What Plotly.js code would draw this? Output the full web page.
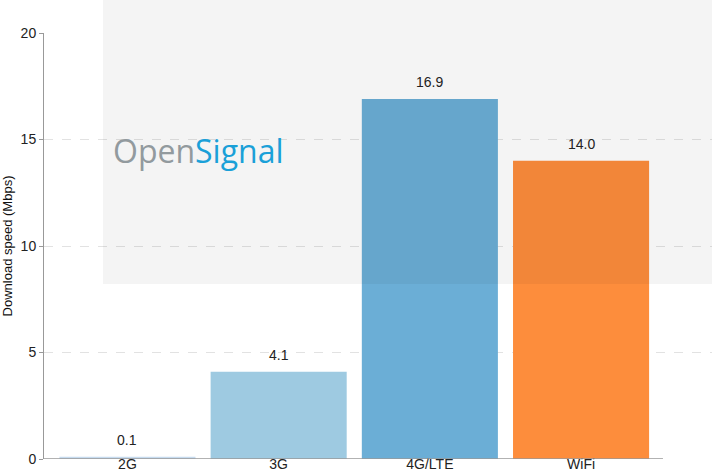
<!DOCTYPE html>
<html>
<head>
<meta charset="utf-8">
<script src="https://cdn.plot.ly/plotly-3.0.1.min.js"></script>
<style>html,body{margin:0;padding:0;background:#fff;}#chart{width:712px;height:472px;}</style>
</head>
<body>
<div id="chart"></div>
<script>
var categories = ["2G", "3G", "4G/LTE", "WiFi"];
var speeds = [0.1, 4.1, 16.9, 14.0];
var speedLabels = ["0.1", "4.1", "16.9", "14.0"];
var barColors = ["#c6dbef", "#9ecae1", "#6baed6", "#fd8d3c"];
var yTicks = [0, 5, 10, 15, 20];

var trace = {
  type: "bar",
  x: categories,
  y: speeds,
  marker: {color: barColors, line: {width: 0}},
  hoverinfo: "skip"
};

var annotations = categories.map(function (c, i) {
  return {
    x: c, y: speeds[i], xref: "x", yref: "y",
    text: speedLabels[i], showarrow: false,
    yanchor: "bottom", yshift: 7,
    font: {family: "Liberation Sans, Arial, sans-serif", size: 14, color: "#222"}
  };
});
annotations.push({
  xref: "paper", yref: "y", x: 0.1, y: 14.5, xanchor: "left", yanchor: "middle",
  showarrow: false,
  text: '<span style="color:#929a9e">Open</span><span style="color:#1aa0d8">Signal</span>',
  font: {family: "Open Sans, sans-serif", size: 32}
});

var layout = {
  width: 712, height: 472,
  margin: {l: 44, r: 0, t: 33, b: 13, pad: 0},
  paper_bgcolor: "#fff", plot_bgcolor: "#fff",
  showlegend: false,
  bargap: 0.1,
  xaxis: {
    type: "category",
    range: [-0.552, 3.866],
    showgrid: false, zeroline: false, showline: false,
    ticks: "", ticklen: 0,
    ticklabelstandoff: -5,
    tickfont: {family: "Liberation Sans, Arial, sans-serif", size: 14, color: "#222"},
    fixedrange: true
  },
  yaxis: {
    range: [0, 20],
    tickvals: yTicks,
    ticktext: yTicks.map(String),
    showgrid: true, gridcolor: "#e2e2e2", griddash: "dash", gridwidth: 1,
    zeroline: false,
    showline: true, linecolor: "#999", linewidth: 1,
    ticks: "outside", ticklen: 4, tickcolor: "#999",
    tickfont: {family: "Liberation Sans, Arial, sans-serif", size: 14, color: "#222"},
    title: {text: "Download speed (Mbps)", standoff: 10,
            font: {family: "Liberation Sans, Arial, sans-serif", size: 13, color: "#111"}},
    fixedrange: true
  },
  shapes: [
    {type: "rect", xref: "paper", yref: "paper", x0: 0.0883, x1: 1, y0: 0.411, y1: 1.08,
     fillcolor: "rgba(0,0,0,0.045)", line: {width: 0}, layer: "above"},
    {type: "line", xref: "paper", yref: "y", x0: 0, x1: 0.9266, y0: 0, y1: 0,
     line: {color: "#999", width: 1.5}, layer: "above"}
  ],
  annotations: annotations
};

Plotly.newPlot("chart", [trace], layout, {displayModeBar: false, staticPlot: true});
</script>
</body>
</html>
